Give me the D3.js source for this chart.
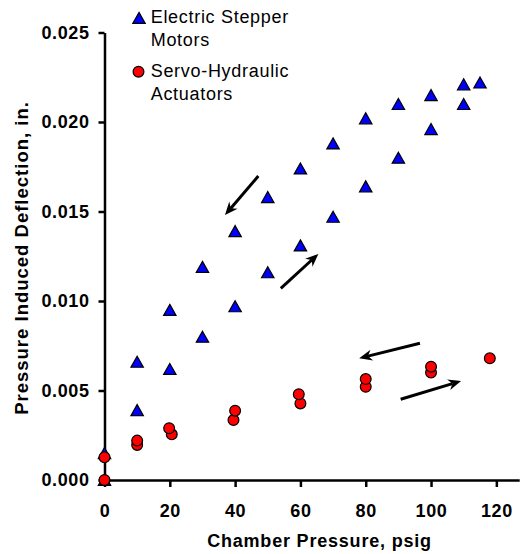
<!DOCTYPE html>
<html>
<head>
<meta charset="utf-8">
<script src="https://cdn.jsdelivr.net/npm/d3@7"></script>
<style>
  body { margin: 0; background: #fff; }
  svg { display: block; font-family: "Liberation Sans", Arial, sans-serif; }
  .axis path, .axis line { stroke: #000; stroke-width: 2.5; }
  .axis text { font-size: 18px; font-weight: bold; letter-spacing: 0.6px; fill: #000; }
</style>
</head>
<body>
<svg id="chart" width="522" height="554"></svg>
<script>
// Electric stepper motors: loading then unloading
var stepperX = [0, 10, 20, 30, 40, 50, 60, 70, 80, 90, 100, 110, 115, 110, 100, 90, 80, 70, 60, 50, 40, 30, 20, 10, 0]
var stepperY = [0, 0.0039, 0.0062, 0.0080, 0.0097, 0.0116, 0.0131, 0.0147, 0.0164, 0.0180, 0.0196, 0.0210, 0.0222,
                0.0221, 0.0215, 0.0210, 0.0202, 0.0188, 0.0174, 0.0158, 0.0139, 0.0119, 0.0095, 0.0066, 0.0015]

// Servo-hydraulic actuators: loading then unloading
var servoX = [0, 10, 20.6, 39.5, 60, 80, 100, 118, 100, 80, 59.5, 40, 19.8, 10, 0]
var servoY = [0, 0.00196, 0.00255, 0.00335, 0.00428, 0.00521, 0.0060, 0.0068,
              0.00633, 0.00564, 0.00479, 0.00387, 0.00289, 0.0022, 0.00127]

var xTicks = [0, 20, 40, 60, 80, 100, 120]
var yTicks = [0, 0.005, 0.010, 0.015, 0.020, 0.025]

var legendLabels = [['Electric Stepper', 'Motors'], ['Servo-Hydraulic', 'Actuators']]

// direction arrows [x1, y1, x2, y2] in data units
var arrows = [
    [47.1, 0.01698, 36.9, 0.0148],
    [54.0, 0.01071, 65.5, 0.01263],
    [96.6, 0.00764, 78.0, 0.0068],
    [90.7, 0.00451, 109.2, 0.00553]
]

var svg = d3.select('#chart')

var x = d3.scaleLinear().domain([0, 127]).range([104.5, 519.2])
var y = d3.scaleLinear().domain([0, 0.025]).range([480, 32.5])

var xAxis = svg.append('g')
    .attr('class', 'axis')
    .attr('transform', 'translate(0,480)')
    .call(d3.axisBottom(x).tickValues(xTicks).tickSizeInner(7).tickSizeOuter(0).tickFormat(d3.format('d')))
xAxis.selectAll('text').attr('y', 36.7).attr('dy', null)

var yAxis = svg.append('g')
    .attr('class', 'axis')
    .attr('transform', 'translate(104.5,0)')
    .call(d3.axisLeft(y).tickValues(yTicks).tickSizeInner(6).tickSizeOuter(0).tickPadding(9).tickFormat(d3.format('.3f')))

// axis titles
svg.append('text')
    .attr('x', 319.5)
    .attr('y', 546.7)
    .attr('text-anchor', 'middle')
    .style('font-size', '18px')
    .style('font-weight', 'bold')
    .style('letter-spacing', '0.8px')
    .text('Chamber Pressure, psig')

svg.append('text')
    .attr('transform', 'translate(28,258) rotate(-90)')
    .attr('text-anchor', 'middle')
    .style('font-size', '18.5px')
    .style('font-weight', 'bold')
    .style('letter-spacing', '1px')
    .text('Pressure Induced Deflection, in.')

// arrows
function arrowPath(a) {
    var x1 = x(a[0]), y1 = y(a[1]), x2 = x(a[2]), y2 = y(a[3])
    var ang = Math.atan2(y2 - y1, x2 - x1)
    var L = 13, W = 5.5, N = 9
    var c = Math.cos(ang), s = Math.sin(ang)
    var bx = x2 - L * c, by = y2 - L * s
    var nx = x2 - N * c, ny = y2 - N * s
    return {
        shaft: [[x1, y1], [nx, ny]],
        head: [[x2, y2], [bx - W * s, by + W * c], [nx, ny], [bx + W * s, by - W * c]]
    }
}

arrows.forEach(function(a) {
    var p = arrowPath(a)
    svg.append('path')
        .attr('d', d3.line()(p.shaft))
        .attr('stroke', '#000')
        .attr('stroke-width', 3)
    svg.append('path')
        .attr('d', d3.line()(p.head) + 'Z')
        .attr('fill', '#000')
})

var tri = 'M0,-5.6L6.2,5.4L-6.2,5.4Z'

svg.selectAll('.tri')
    .data(stepperX.map(function(d, i) { return [d, stepperY[i]] }))
    .enter()
    .append('path')
    .attr('class', 'tri')
    .attr('d', tri)
    .attr('transform', function(d) { return 'translate(' + x(d[0]) + ',' + y(d[1]) + ')' })
    .attr('fill', '#0000ff')
    .attr('stroke', '#000')
    .attr('stroke-width', 1.2)

svg.selectAll('.dot')
    .data(servoX.map(function(d, i) { return [d, servoY[i]] }))
    .enter()
    .append('circle')
    .attr('class', 'dot')
    .attr('cx', function(d) { return x(d[0]) })
    .attr('cy', function(d) { return y(d[1]) })
    .attr('r', 5.4)
    .attr('fill', '#ff0000')
    .attr('stroke', '#000')
    .attr('stroke-width', 1.2)

// legend
var legend = svg.append('g')
legend.append('path')
    .attr('d', tri)
    .attr('transform', 'translate(139,18)')
    .attr('fill', '#0000ff')
    .attr('stroke', '#000')
    .attr('stroke-width', 1.2)
legend.append('circle')
    .attr('cx', 138.5)
    .attr('cy', 71.7)
    .attr('r', 5.4)
    .attr('fill', '#ff0000')
    .attr('stroke', '#000')
    .attr('stroke-width', 1.2)

var baselines = [[22.7, 46], [76.7, 100]]
legendLabels.forEach(function(lines, i) {
    lines.forEach(function(t, j) {
        legend.append('text')
            .attr('x', 150.7)
            .attr('y', baselines[i][j])
            .style('font-size', '18px')
            .style('letter-spacing', '0.7px')
            .text(t)
    })
})
</script>
</body>
</html>
